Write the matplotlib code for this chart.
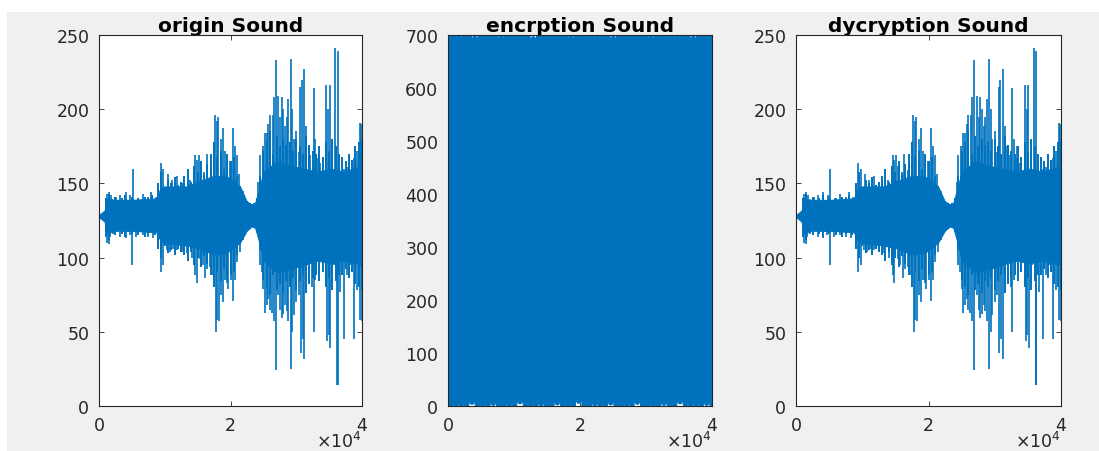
import matplotlib
matplotlib.use("Agg")
import matplotlib.pyplot as plt
import numpy as np
from matplotlib.patches import Rectangle

# ---------------- data ----------------
# dense core band of the original / decrypted sound
core_x = [0, 356, 864, 1118, 2389, 5185, 8743, 9251, 9760, 13318, 15351, 17384,
          19417, 21450, 22467, 23229, 23738, 24246, 25008, 27042, 29075, 31108,
          33142, 35175, 37208, 40000]
core_hi = [129, 130, 132, 140, 139, 139, 140, 146, 148, 148, 152, 155,
           155, 148, 138, 136, 137, 145, 158, 165, 162, 160,
           158, 160, 158, 162]
core_lo = [127, 126, 124, 116, 118, 118, 117, 112, 110, 108, 106, 102,
           103, 110, 118, 121, 120, 112, 98, 90, 92, 95,
           98, 96, 98, 95]

# short peaks that roughen the edge of the core (every 500 samples from 1000)
tex_hi = [140, 143, 139, 141, 138, 140, 142, 139,
          141, 139, 140, 138, 141, 140, 142, 139,
          150, 158, 147, 152, 150, 154, 149, 151,
          155, 160, 151, 162, 158, 165, 156, 163,
          170, 178, 168, 172, 160, 170, 165, 168,
          155, 148, 142, 138, 137, 137, 140, 155,
          172, 178, 185, 170, 182, 175, 180, 176,
          178, 172, 180, 175, 170, 182, 176, 172,
          170, 175, 168, 178, 172, 180, 175, 170,
          168, 165, 170, 166, 175, 178, 180]
tex_lo = [114, 112, 117, 115, 118, 116, 114, 117,
          116, 118, 115, 117, 114, 116, 118, 115,
          106, 100, 108, 103, 105, 102, 106, 104,
          102, 98, 104, 95, 100, 94, 101, 96,
          88, 80, 90, 84, 92, 85, 88, 90,
          102, 110, 115, 118, 119, 120, 117, 105,
          85, 80, 75, 88, 78, 82, 76, 84,
          80, 86, 78, 84, 88, 76, 82, 86,
          88, 84, 90, 80, 86, 78, 84, 88,
          88, 92, 86, 90, 82, 80, 78]
tex_x = list(range(1000, 40001, 500))

# upward peaks
up_x = [1220, 1525, 1881, 2643, 3253, 4066, 4778, 5185, 5947, 6710, 7472, 7980,
        8641, 9404, 9760, 10420, 11030, 11793, 12555, 12911, 13826, 14588, 14843,
        15147, 15452, 15960, 16367, 16977, 17638, 17892, 18146, 18502, 18807,
        19163, 19417, 19925, 20434, 20688, 20942, 21349, 21959, 24246, 24500,
        24907, 25263, 25517, 25771, 26025, 26432, 26635, 26940, 27296, 27550,
        27805, 28059, 28313, 28567, 28821, 29177, 29380, 29584, 29990, 30346,
        30600, 30854, 31210, 31515, 31871, 32125, 32633, 32887, 33142, 33396,
        33650, 34057, 34565, 34819, 35073, 35429, 35937, 36293, 36700, 37208,
        37462, 37717, 38225, 38733, 38988, 39242, 39649, 39903]
up_val = [143, 144, 142, 141, 142, 144, 142, 160, 140, 143, 141, 144,
          141, 164, 160, 156, 152, 155, 150, 152, 152, 169, 166,
          169, 162, 158, 170, 159, 196, 192, 195, 180, 187,
          172, 167, 165, 187, 175, 169, 156, 145, 151, 169,
          175, 184, 184, 190, 196, 196, 208, 233, 209, 195,
          208, 200, 189, 195, 207, 234, 200, 180, 185, 171,
          215, 220, 227, 189, 175, 169, 214, 180, 167, 175,
          164, 150, 216, 200, 216, 153, 241, 239, 157, 160,
          158, 161, 140, 167, 168, 172, 191, 190]

# downward peaks
dn_x = [1220, 1525, 1728, 2135, 3253, 4066, 4676, 5083, 5693, 6710, 7472, 8234,
        8997, 9404, 9760, 10268, 10776, 11284, 11793, 12555, 13318, 14080, 14588,
        14843, 15351, 15757, 16113, 16469, 16876, 17384, 17791, 17994, 18197,
        18502, 18807, 19163, 19417, 19671, 20027, 20434, 20688, 20942, 21450,
        21959, 24500, 24754, 25008, 25263, 25517, 25771, 26025, 26280, 26635,
        26940, 27296, 27550, 27805, 28059, 28313, 28567, 28821, 29177, 29380,
        29584, 29990, 30346, 30701, 30956, 31210, 31617, 32125, 32379, 32633,
        32887, 33142, 33650, 34159, 34667, 34921, 35175, 35683, 36191, 36293,
        36700, 37208, 37717, 38225, 38733, 39242, 39649, 39980]
dn_val = [110, 109, 114, 116, 114, 113, 115, 95, 114, 115, 114, 113,
          112, 90, 95, 105, 104, 106, 105, 104, 103, 100, 88,
          83, 99, 95, 86, 92, 94, 88, 50, 58, 57,
          75, 70, 85, 83, 79, 85, 71, 85, 97, 104,
          112, 95, 90, 79, 63, 68, 72, 65, 63, 57,
          24, 75, 65, 59, 62, 68, 64, 57, 25, 50,
          61, 70, 75, 36, 45, 32, 95, 97, 80, 50,
          85, 97, 98, 110, 44, 48, 39, 95, 14, 14,
          77, 45, 88, 95, 45, 78, 58, 57]
mid_level = 128

# encrypted sound: alternating extreme samples filling 0..700
enc_vals = [699, 2, 699, 1, 696, 3, 699, 1, 699, 7, 694, 1, 699, 2, 699, 1, 699, 5, 699, 1,
            695, 1, 699, 3, 699, 1, 699, 8, 697, 1, 699, 1, 693, 2, 699, 4, 699, 1, 699, 1,
            698, 6, 699, 1, 699, 2, 695, 1, 699, 9, 699, 1, 699, 1, 696, 4, 699, 1, 699, 2,
            699, 6, 694, 1, 699, 1, 699, 3, 699, 1, 697, 7, 699, 1, 699, 1, 695, 2, 699, 1,
            699, 5, 699, 1, 696, 1, 699, 8, 699, 2, 699, 1, 694, 3, 699, 1, 699, 5, 699, 1]
enc_x = np.linspace(0, 40000, len(enc_vals))

x_ticks = [0, 20000, 40000]
x_tick_labels = ["0", "2", "4"]
y_ticks_sound = [0, 50, 100, 150, 200, 250]
y_ticks_enc = [0, 100, 200, 300, 400, 500, 600, 700]
titles = ["origin Sound", "encrption Sound", "dycryption Sound"]

# ---------------- drawing ----------------
BLUE = "#0072BD"
DARK = "#262626"
plt.rcParams["font.family"] = ["DejaVu Sans"]

fig = plt.figure(figsize=(10.99, 4.52), dpi=100)
fig.patch.set_facecolor("white")
bg = Rectangle((7 / 1099, 0), 1 - 7 / 1099, (452 - 13) / 452,
               transform=fig.transFigure, facecolor="#f0f0f0",
               edgecolor="none", zorder=-10)
fig.add_artist(bg)

W, H = 1099.0, 452.0
bottom = 45 / H
height = 371 / H
lefts = [99, 448, 796]
widths = [263, 264, 265]

axes = []
for i in range(3):
    ax = fig.add_axes([lefts[i] / W, bottom, widths[i] / W, height])
    ax.set_zorder(1)
    axes.append(ax)


def style(ax, yticks, ymax, title):
    ax.set_facecolor("white")
    ax.set_xlim(0, 40000)
    ax.set_ylim(0, ymax)
    ax.set_xticks(x_ticks)
    ax.set_xticklabels(x_tick_labels)
    ax.set_yticks(yticks)
    ax.set_yticklabels([str(v) for v in yticks])
    ax.tick_params(direction="in", length=3.5, width=0.6, colors=DARK,
                   top=True, right=True, labelsize=12.5, pad=7)
    for s in ax.spines.values():
        s.set_color(DARK)
        s.set_linewidth(0.8)
        s.set_zorder(5)
    ax.set_title(title, fontsize=14.5, fontweight="bold", color="black", pad=3)
    ax.text(1.0, -0.094, r"$\times10^{4}$", transform=ax.transAxes,
            ha="right", va="center", fontsize=12.5, color=DARK)


for ax in (axes[0], axes[2]):
    ax.fill_between(core_x, core_lo, core_hi, color=BLUE, lw=0.6)
    ax.vlines(tex_x, tex_lo, tex_hi, color=BLUE, lw=1.4)
    ax.vlines(up_x, mid_level, up_val, color=BLUE, lw=1.2)
    ax.vlines(dn_x, dn_val, mid_level, color=BLUE, lw=1.2)

axes[1].plot(enc_x, enc_vals, color=BLUE, lw=3.8)

style(axes[0], y_ticks_sound, 250, titles[0])
style(axes[1], y_ticks_enc, 700, titles[1])
style(axes[2], y_ticks_sound, 250, titles[2])

fig.savefig("out.png", dpi=100)
